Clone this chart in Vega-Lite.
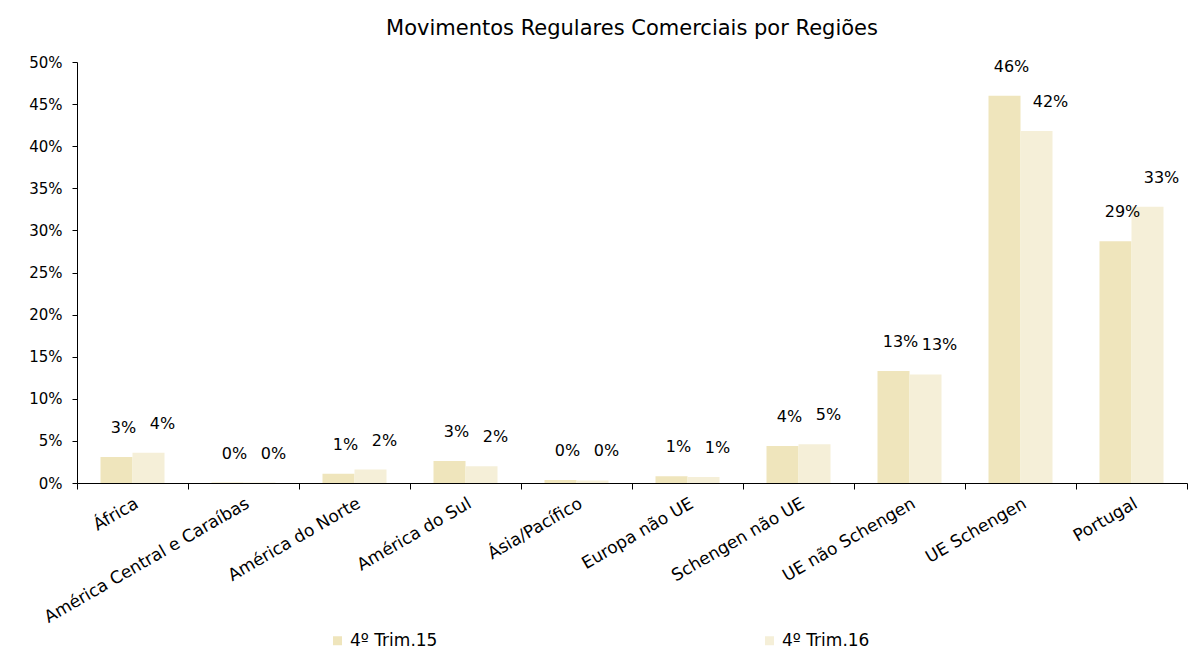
{
  "$schema": "https://vega.github.io/schema/vega-lite/v6.json",
  "width": 1110,
  "height": 421,
  "autosize": {"type": "none"},
  "padding": {"left": 77, "top": 62, "right": 4, "bottom": 174},
  "background": "white",
  "title": {"text": "Movimentos Regulares Comerciais por Regiões", "fontSize": 21, "font": "DejaVu Sans", "fontWeight": "normal", "color": "#000000", "anchor": "middle", "offset": 16},
  "config": {"view": {"stroke": null}, "font": "DejaVu Sans"},
  "data": {"values": [
    {"regiao": "África", "periodo": "4º Trim.15", "valor": 0.031},
    {"regiao": "África", "periodo": "4º Trim.16", "valor": 0.036},
    {"regiao": "América Central e Caraíbas", "periodo": "4º Trim.15", "valor": 0.0005},
    {"regiao": "América Central e Caraíbas", "periodo": "4º Trim.16", "valor": 0.0005},
    {"regiao": "América do Norte", "periodo": "4º Trim.15", "valor": 0.011},
    {"regiao": "América do Norte", "periodo": "4º Trim.16", "valor": 0.016},
    {"regiao": "América do Sul", "periodo": "4º Trim.15", "valor": 0.026},
    {"regiao": "América do Sul", "periodo": "4º Trim.16", "valor": 0.02},
    {"regiao": "Ásia/Pacífico", "periodo": "4º Trim.15", "valor": 0.0035},
    {"regiao": "Ásia/Pacífico", "periodo": "4º Trim.16", "valor": 0.003},
    {"regiao": "Europa não UE", "periodo": "4º Trim.15", "valor": 0.008},
    {"regiao": "Europa não UE", "periodo": "4º Trim.16", "valor": 0.007},
    {"regiao": "Schengen não UE", "periodo": "4º Trim.15", "valor": 0.044},
    {"regiao": "Schengen não UE", "periodo": "4º Trim.16", "valor": 0.046},
    {"regiao": "UE não Schengen", "periodo": "4º Trim.15", "valor": 0.133},
    {"regiao": "UE não Schengen", "periodo": "4º Trim.16", "valor": 0.129},
    {"regiao": "UE Schengen", "periodo": "4º Trim.15", "valor": 0.46},
    {"regiao": "UE Schengen", "periodo": "4º Trim.16", "valor": 0.418},
    {"regiao": "Portugal", "periodo": "4º Trim.15", "valor": 0.287},
    {"regiao": "Portugal", "periodo": "4º Trim.16", "valor": 0.328}
  ]},
  "encoding": {
    "x": {
      "field": "regiao", "type": "nominal", "sort": null,
      "scale": {"paddingInner": 0, "paddingOuter": 0},
      "axis": {"title": null, "labelAngle": -30, "labelFontSize": 17, "labelColor": "#000000", "labelFont": "DejaVu Sans", "labelLimit": 0, "tickBand": "extent", "tickSize": 6, "tickColor": "#000000", "domainColor": "#000000", "labelPadding": 6, "grid": false}
    },
    "xOffset": {"field": "periodo", "type": "nominal", "scale": {"paddingInner": 0, "paddingOuter": 0.734}},
    "y": {
      "field": "valor", "type": "quantitative",
      "scale": {"domain": [0, 0.5], "nice": false},
      "axis": {"title": null, "format": ".0%", "values": [0, 0.05, 0.1, 0.15, 0.2, 0.25, 0.3, 0.35, 0.4, 0.45, 0.5], "grid": false, "labelFontSize": 15, "labelColor": "#000000", "labelFont": "DejaVu Sans", "tickSize": 5, "tickColor": "#000000", "domainColor": "#000000", "labelPadding": 10}
    }
  },
  "layer": [
    {
      "mark": {"type": "bar"},
      "encoding": {
        "color": {
          "field": "periodo", "type": "nominal",
          "scale": {"domain": ["4º Trim.15", "4º Trim.16"], "range": ["#efe5bc", "#f5efd8"]},
          "legend": {"title": null, "orient": "none", "legendX": 252, "legendY": 570, "direction": "horizontal", "columnPadding": 323, "symbolType": "square", "symbolSize": 81, "symbolStrokeWidth": 0, "labelFontSize": 17, "labelFont": "DejaVu Sans", "labelColor": "#000000", "labelOffset": 4}
        }
      }
    },
    {
      "transform": [{"filter": "datum.periodo === '4º Trim.15'"}],
      "mark": {"type": "text", "dy": -29, "dx": 7, "fontSize": 16, "font": "DejaVu Sans", "color": "#000000", "baseline": "middle"},
      "encoding": {"text": {"field": "valor", "type": "quantitative", "format": ".0%"}}
    },
    {
      "transform": [{"filter": "datum.periodo === '4º Trim.16'"}],
      "mark": {"type": "text", "dy": -29, "dx": 14, "fontSize": 16, "font": "DejaVu Sans", "color": "#000000", "baseline": "middle"},
      "encoding": {"text": {"field": "valor", "type": "quantitative", "format": ".0%"}}
    }
  ]
}
